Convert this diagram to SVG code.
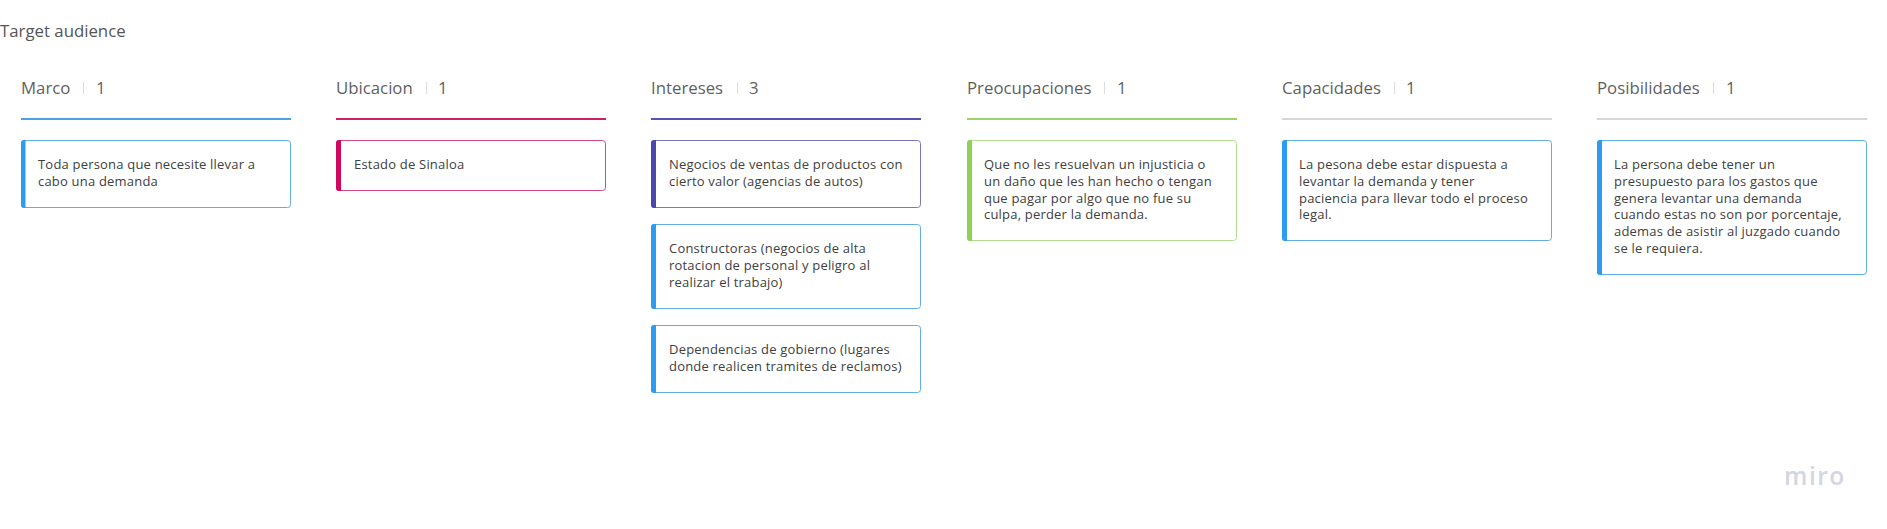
<svg xmlns="http://www.w3.org/2000/svg" width="1887" height="529" viewBox="0 0 1887 529">
<style>
text{font-family:"Open Sans","Noto Sans",sans-serif}
.title{font-size:16.800px;fill:#555}
.h{font-size:16.800px;fill:#5f5f5f}
.sep{stroke:#dcdcdc;stroke-width:1}
.t{font-size:13px;letter-spacing:.2px;fill:#404040}
.card{fill:#fff;stroke-width:1}
.blue .card{stroke:#62ade6}.blue .bar{fill:#2d9bf0}
.pink .card{stroke:#d1477f}.pink .bar{fill:#d0085f}
.ind .card{stroke:#7a78bb}.ind .bar{fill:#4a47ad}
.grn .card{stroke:#b4dc90}.grn .bar{fill:#8fd155}
</style>
<rect width="1887" height="529" fill="#fff"/>
<text class="title" x="0" y="37">Target audience</text>
<g id="col-marco"><text class="h" x="21" y="94">Marco</text><line class="sep" x1="83.500" y1="82" x2="83.500" y2="94"/><text class="h" x="96" y="94">1</text><rect x="21" y="118" width="270" height="2" fill="#4ba3e3"/></g>
<g id="col-ubicacion"><text class="h" x="336" y="94">Ubicacion</text><line class="sep" x1="426.500" y1="82" x2="426.500" y2="94"/><text class="h" x="438" y="94">1</text><rect x="336" y="118" width="270" height="2" fill="#cc1f66"/></g>
<g id="col-intereses"><text class="h" x="651" y="94">Intereses</text><line class="sep" x1="737.500" y1="82" x2="737.500" y2="94"/><text class="h" x="749" y="94">3</text><rect x="651" y="118" width="270" height="2" fill="#5552b5"/></g>
<g id="col-preocupaciones"><text class="h" x="967" y="94">Preocupaciones</text><line class="sep" x1="1104.500" y1="82" x2="1104.500" y2="94"/><text class="h" x="1117" y="94">1</text><rect x="967" y="118" width="270" height="2" fill="#9ad267"/></g>
<g id="col-capacidades"><text class="h" x="1282" y="94">Capacidades</text><line class="sep" x1="1394.500" y1="82" x2="1394.500" y2="94"/><text class="h" x="1406" y="94">1</text><rect x="1282" y="118" width="270" height="2" fill="#d6d6d6"/></g>
<g id="col-posibilidades"><text class="h" x="1597" y="94">Posibilidades</text><line class="sep" x1="1713.500" y1="82" x2="1713.500" y2="94"/><text class="h" x="1726" y="94">1</text><rect x="1597" y="118" width="270" height="2" fill="#d6d6d6"/></g>
<g id="card-marco" class="blue"><rect class="card" x="21.500" y="140.500" width="269" height="67" rx="3"/><path class="bar" d="M25.500 140h-1.500a3 3 0 0 0-3 3v62a3 3 0 0 0 3 3h1.500z"/><text class="t" x="38" y="169">Toda persona que necesite llevar a</text><text class="t" x="38" y="186">cabo una demanda</text></g>
<g id="card-ubicacion" class="pink"><rect class="card" x="336.500" y="140.500" width="269" height="50" rx="3"/><path class="bar" d="M341 140h-2a3 3 0 0 0-3 3v45a3 3 0 0 0 3 3h2z"/><text class="t" x="354" y="169">Estado de Sinaloa</text></g>
<g id="card-intereses-1" class="ind"><rect class="card" x="651.500" y="140.500" width="269" height="67" rx="3"/><path class="bar" d="M656 140h-2a3 3 0 0 0-3 3v62a3 3 0 0 0 3 3h2z"/><text class="t" x="669" y="169">Negocios de ventas de productos con</text><text class="t" x="669" y="186">cierto valor (agencias de autos)</text></g>
<g id="card-intereses-2" class="blue"><rect class="card" x="651.500" y="224.500" width="269" height="84" rx="3"/><path class="bar" d="M656 224h-2a3 3 0 0 0-3 3v79a3 3 0 0 0 3 3h2z"/><text class="t" x="669" y="253">Constructoras (negocios de alta</text><text class="t" x="669" y="270">rotacion de personal y peligro al</text><text class="t" x="669" y="287">realizar el trabajo)</text></g>
<g id="card-intereses-3" class="blue"><rect class="card" x="651.500" y="325.500" width="269" height="67" rx="3"/><path class="bar" d="M656 325h-2a3 3 0 0 0-3 3v62a3 3 0 0 0 3 3h2z"/><text class="t" x="669" y="354">Dependencias de gobierno (lugares</text><text class="t" x="669" y="371">donde realicen tramites de reclamos)</text></g>
<g id="card-preocupaciones" class="grn"><rect class="card" x="967.500" y="140.500" width="269" height="100" rx="3"/><path class="bar" d="M972 140h-2a3 3 0 0 0-3 3v95a3 3 0 0 0 3 3h2z"/><text class="t" x="984" y="169">Que no les resuelvan un injusticia o</text><text class="t" x="984" y="186">un daño que les han hecho o tengan</text><text class="t" x="984" y="203">que pagar por algo que no fue su</text><text class="t" x="984" y="219">culpa, perder la demanda.</text></g>
<g id="card-capacidades" class="blue"><rect class="card" x="1282.500" y="140.500" width="269" height="100" rx="3"/><path class="bar" d="M1287 140h-2a3 3 0 0 0-3 3v95a3 3 0 0 0 3 3h2z"/><text class="t" x="1299" y="169">La pesona debe estar dispuesta a</text><text class="t" x="1299" y="186">levantar la demanda y tener</text><text class="t" x="1299" y="203">paciencia para llevar todo el proceso</text><text class="t" x="1299" y="219">legal.</text></g>
<g id="card-posibilidades" class="blue"><rect class="card" x="1597.500" y="140.500" width="269" height="134" rx="3"/><path class="bar" d="M1602 140h-2a3 3 0 0 0-3 3v129a3 3 0 0 0 3 3h2z"/><text class="t" x="1614" y="169">La persona debe tener un</text><text class="t" x="1614" y="186">presupuesto para los gastos que</text><text class="t" x="1614" y="203">genera levantar una demanda</text><text class="t" x="1614" y="219">cuando estas no son por porcentaje,</text><text class="t" x="1614" y="236">ademas de asistir al juzgado cuando</text><text class="t" x="1614" y="253">se le requiera.</text></g>
<g id="connectors"/>
<text x="1784" y="485" font-size="24.500" font-weight="600" letter-spacing="1.500" fill="#d3d6e0">miro</text>
</svg>
